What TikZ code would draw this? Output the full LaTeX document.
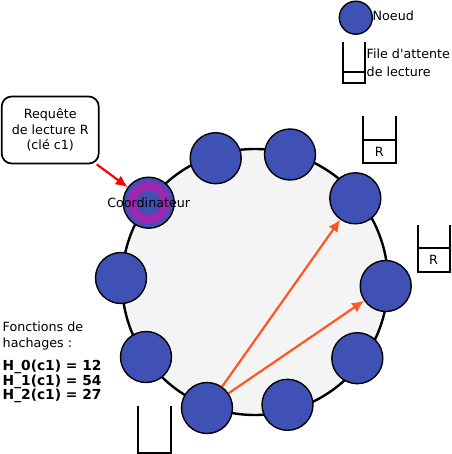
\documentclass[tikz,border=0pt]{standalone}
\usepackage{fontspec}
\setmainfont{DejaVu Sans}
\usetikzlibrary{arrows.meta}
\definecolor{nodeblue}{HTML}{3F51B5}
\definecolor{ringpurple}{HTML}{9C27B0}
\definecolor{ringgray}{HTML}{F4F4F4}
\definecolor{arroworange}{HTML}{FF5722}
\begin{document}
\begin{tikzpicture}[x=1pt,y=-1pt,
  txt/.style={font=\fontsize{12.7}{15.3}\selectfont, inner sep=0pt},
  peer/.style={circle, draw=black, line width=1.4pt, fill=nodeblue, minimum size=51pt, inner sep=0pt},
  bigring/.style={circle, draw=black, line width=2.4pt, fill=ringgray, minimum size=266pt, inner sep=0pt},
  queue/.style={draw=black, line width=2pt},
  orangearrow/.style={draw=arroworange, line width=2.2pt, -{Latex[length=12pt,width=11pt]}},
  redarrow/.style={draw=red, line width=2.2pt, -{Latex[length=12pt,width=11pt]}},
  reqbox/.style={draw=black, line width=1.7pt, rounded corners=10pt, fill=white, minimum width=97pt, minimum height=67pt, align=center, txt}
]
\useasboundingbox (0,0) rectangle (451,454);

% ring
\node[bigring] (ring) at (255,282) {};

% nodes
\node[peer] (n1) at (148.7,202.7) {};
\node[peer] (n2) at (215.7,158.2) {};
\node[peer] (n3) at (290,154.5) {};
\node[peer] (n4) at (355.3,198.3) {};
\node[peer] (n5) at (385.7,286) {};
\node[peer] (n6) at (357.3,358.2) {};
\node[peer] (n7) at (287.5,404.8) {};
\node[peer] (n8) at (207,408) {};
\node[peer] (n9) at (146,357) {};
\node[peer] (n10) at (121,278) {};

% coordinator rings
\fill[ringpurple] (n1.center) circle (21.3);
\fill[nodeblue] (n1.center) circle (12);
\node[txt] (coordlabel) at (148.7,203) {Coordinateur};

% arrows
\draw[orangearrow] (n8) -- (n4);
\draw[orangearrow] (n8) -- (n5);

% request box
\node[reqbox] (req) at (50.2,130) {Requête\\de lecture R\\(clé c1)};
\draw[redarrow] (req) -- (n1);

% queues
\draw[queue] (362.7,116) -- (362.7,163.3) -- (395.7,163.3) -- (395.7,116);
\draw[queue, line width=1.6pt] (362.7,140) -- (395.7,140);
\node[txt] (r1) at (379.2,151.5) {R};

\draw[queue] (417.7,225) -- (417.7,271.7) -- (449.5,271.7) -- (449.5,225);
\draw[queue, line width=1.6pt] (417.7,247.7) -- (449.5,247.7);
\node[txt] (r2) at (433.6,259.5) {R};

\draw[queue] (138.3,405.7) -- (138.3,452.7) -- (171,452.7) -- (171,405.7);

% legend
\node[peer, minimum size=33pt] (legnode) at (355.8,17.7) {};
\node[txt, anchor=west] (legtext) at (372.5,16) {Noeud};
\draw[queue, line width=2.1pt] (342.7,42.3) -- (342.7,83.3) -- (365.3,83.3) -- (365.3,42.3);
\draw[queue, line width=1.8pt] (342.7,72.3) -- (365.3,72.3);
\node[txt, anchor=west, align=left, font=\fontsize{12.7}{17.7}\selectfont] (legqueue) at (366.5,62.5) {File d\textquotesingle attente\\de lecture};

% hash text
\node[txt, anchor=west, align=left, font=\fontsize{12.7}{16}\selectfont] (fonc) at (2.5,336) {Fonctions de\\hachages :};
\node[txt, anchor=west, align=left, font=\fontsize{13.8}{12.6}\selectfont\bfseries] (hash) at (2.5,381.5) {H\_0(c1) = 12\\H\_1(c1) = 54\\H\_2(c1) = 27};
\end{tikzpicture}
\end{document}
